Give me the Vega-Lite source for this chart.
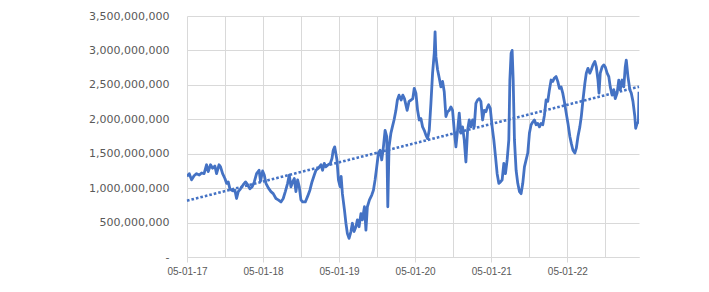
{
  "$schema": "https://vega.github.io/schema/vega-lite/v6.json",
  "autosize": "none",
  "width": 452,
  "height": 241,
  "padding": {"left": 187, "top": 16, "right": 70, "bottom": 35},
  "background": "white",
  "config": {"view": {"stroke": null}},
  "data": {"values": [
    {"date":"2017-01-05","value":1.17e9},{"date":"2017-01-16","value":1.21e9},{"date":"2017-01-27","value":1.12e9},{"date":"2017-02-08","value":1.18e9},{"date":"2017-02-20","value":1.21e9},{"date":"2017-03-05","value":1.19e9},{"date":"2017-03-16","value":1.22e9},{"date":"2017-03-28","value":1.21e9},{"date":"2017-04-09","value":1.34e9},{"date":"2017-04-17","value":1.24e9},{"date":"2017-04-28","value":1.34e9},{"date":"2017-05-08","value":1.29e9},{"date":"2017-05-19","value":1.32e9},{"date":"2017-05-27","value":1.21e9},{"date":"2017-06-08","value":1.34e9},{"date":"2017-06-15","value":1.31e9},{"date":"2017-06-25","value":1.21e9},{"date":"2017-07-06","value":1.14e9},{"date":"2017-07-14","value":1.07e9},{"date":"2017-07-22","value":1.09e9},{"date":"2017-07-30","value":0.99e9},{"date":"2017-08-07","value":0.97e9},{"date":"2017-08-15","value":0.96e9},{"date":"2017-08-23","value":0.97e9},{"date":"2017-08-31","value":0.85e9},{"date":"2017-09-08","value":0.95e9},{"date":"2017-09-19","value":0.99e9},{"date":"2017-10-02","value":1.05e9},{"date":"2017-10-13","value":1.09e9},{"date":"2017-10-23","value":1.05e9},{"date":"2017-11-03","value":0.99e9},{"date":"2017-11-14","value":1.02e9},{"date":"2017-11-24","value":1.09e9},{"date":"2017-12-05","value":1.21e9},{"date":"2017-12-17","value":1.26e9},{"date":"2017-12-24","value":1.10e9},
    {"date":"2018-01-03","value":1.25e9},{"date":"2018-01-11","value":1.19e9},{"date":"2018-01-19","value":1.07e9},{"date":"2018-01-31","value":1.00e9},{"date":"2018-02-12","value":0.95e9},{"date":"2018-02-23","value":0.92e9},{"date":"2018-03-08","value":0.85e9},{"date":"2018-03-19","value":0.83e9},{"date":"2018-04-01","value":0.80e9},{"date":"2018-04-12","value":0.85e9},{"date":"2018-04-22","value":0.95e9},{"date":"2018-05-03","value":1.07e9},{"date":"2018-05-11","value":1.19e9},{"date":"2018-05-19","value":1.02e9},{"date":"2018-05-27","value":1.09e9},{"date":"2018-06-04","value":1.14e9},{"date":"2018-06-12","value":0.95e9},{"date":"2018-06-20","value":1.12e9},{"date":"2018-06-28","value":1.02e9},{"date":"2018-07-06","value":0.83e9},{"date":"2018-07-14","value":0.80e9},{"date":"2018-07-27","value":0.80e9},{"date":"2018-08-07","value":0.88e9},{"date":"2018-08-18","value":0.97e9},{"date":"2018-08-28","value":1.09e9},{"date":"2018-09-08","value":1.19e9},{"date":"2018-09-16","value":1.26e9},{"date":"2018-09-28","value":1.29e9},{"date":"2018-10-10","value":1.34e9},{"date":"2018-10-18","value":1.26e9},{"date":"2018-10-26","value":1.36e9},{"date":"2018-11-03","value":1.31e9},{"date":"2018-11-14","value":1.34e9},{"date":"2018-11-24","value":1.36e9},{"date":"2018-12-02","value":1.43e9},{"date":"2018-12-08","value":1.55e9},{"date":"2018-12-15","value":1.60e9},{"date":"2018-12-26","value":1.41e9},
    {"date":"2019-01-02","value":1.12e9},{"date":"2019-01-10","value":1.02e9},{"date":"2019-01-15","value":1.17e9},{"date":"2019-01-21","value":0.92e9},{"date":"2019-01-31","value":0.68e9},{"date":"2019-02-07","value":0.49e9},{"date":"2019-02-14","value":0.34e9},{"date":"2019-02-22","value":0.27e9},{"date":"2019-03-03","value":0.37e9},{"date":"2019-03-10","value":0.49e9},{"date":"2019-03-18","value":0.37e9},{"date":"2019-03-27","value":0.44e9},{"date":"2019-04-03","value":0.54e9},{"date":"2019-04-11","value":0.44e9},{"date":"2019-04-20","value":0.63e9},{"date":"2019-04-27","value":0.54e9},{"date":"2019-05-07","value":0.73e9},{"date":"2019-05-14","value":0.39e9},{"date":"2019-05-21","value":0.73e9},{"date":"2019-05-31","value":0.83e9},{"date":"2019-06-11","value":0.90e9},{"date":"2019-06-19","value":0.97e9},{"date":"2019-06-27","value":1.12e9},{"date":"2019-07-05","value":1.31e9},{"date":"2019-07-13","value":1.51e9},{"date":"2019-07-21","value":1.55e9},{"date":"2019-07-29","value":1.41e9},{"date":"2019-08-06","value":1.60e9},{"date":"2019-08-14","value":1.84e9},{"date":"2019-08-22","value":1.75e9},{"date":"2019-08-27","value":0.73e9},{"date":"2019-09-02","value":1.60e9},{"date":"2019-09-11","value":1.80e9},{"date":"2019-09-18","value":1.89e9},{"date":"2019-09-26","value":1.99e9},{"date":"2019-10-05","value":2.13e9},{"date":"2019-10-12","value":2.28e9},{"date":"2019-10-20","value":2.35e9},{"date":"2019-10-30","value":2.28e9},{"date":"2019-11-07","value":2.35e9},{"date":"2019-11-15","value":2.30e9},{"date":"2019-11-28","value":2.13e9},{"date":"2019-12-07","value":2.26e9},{"date":"2019-12-17","value":2.28e9},{"date":"2019-12-25","value":2.30e9},
    {"date":"2020-01-01","value":2.45e9},{"date":"2020-01-09","value":2.38e9},{"date":"2020-01-17","value":2.13e9},{"date":"2020-01-25","value":1.99e9},{"date":"2020-02-02","value":2.01e9},{"date":"2020-02-10","value":1.89e9},{"date":"2020-02-18","value":1.84e9},{"date":"2020-02-26","value":1.77e9},{"date":"2020-03-05","value":1.72e9},{"date":"2020-03-13","value":1.84e9},{"date":"2020-03-21","value":2.23e9},{"date":"2020-03-29","value":2.67e9},{"date":"2020-04-06","value":2.96e9},{"date":"2020-04-10","value":3.27e9},{"date":"2020-04-14","value":2.91e9},{"date":"2020-04-22","value":2.72e9},{"date":"2020-04-30","value":2.60e9},{"date":"2020-05-08","value":2.47e9},{"date":"2020-05-16","value":2.55e9},{"date":"2020-05-24","value":2.40e9},{"date":"2020-06-01","value":2.04e9},{"date":"2020-06-09","value":2.11e9},{"date":"2020-06-17","value":2.13e9},{"date":"2020-06-25","value":2.18e9},{"date":"2020-07-03","value":2.13e9},{"date":"2020-07-11","value":1.84e9},{"date":"2020-07-19","value":1.60e9},{"date":"2020-07-27","value":1.84e9},{"date":"2020-08-04","value":2.09e9},{"date":"2020-08-12","value":1.80e9},{"date":"2020-08-20","value":1.89e9},{"date":"2020-08-28","value":1.70e9},{"date":"2020-09-05","value":1.38e9},{"date":"2020-09-13","value":1.84e9},{"date":"2020-09-21","value":1.99e9},{"date":"2020-09-29","value":1.89e9},{"date":"2020-10-07","value":1.99e9},{"date":"2020-10-15","value":1.89e9},{"date":"2020-10-23","value":2.23e9},{"date":"2020-10-31","value":2.28e9},{"date":"2020-11-08","value":2.30e9},{"date":"2020-11-16","value":2.26e9},{"date":"2020-11-24","value":1.99e9},{"date":"2020-12-02","value":2.13e9},{"date":"2020-12-10","value":2.11e9},{"date":"2020-12-18","value":2.18e9},{"date":"2020-12-23","value":2.21e9},{"date":"2020-12-31","value":2.16e9},
    {"date":"2021-01-09","value":1.89e9},{"date":"2021-01-17","value":1.70e9},{"date":"2021-01-25","value":1.46e9},{"date":"2021-02-02","value":1.21e9},{"date":"2021-02-10","value":1.07e9},{"date":"2021-02-18","value":1.09e9},{"date":"2021-02-26","value":1.12e9},{"date":"2021-03-06","value":1.36e9},{"date":"2021-03-14","value":1.21e9},{"date":"2021-03-22","value":1.41e9},{"date":"2021-03-30","value":1.70e9},{"date":"2021-04-04","value":2.57e9},{"date":"2021-04-10","value":2.96e9},{"date":"2021-04-15","value":3.00e9},{"date":"2021-04-20","value":2.57e9},{"date":"2021-04-26","value":1.70e9},{"date":"2021-05-04","value":1.26e9},{"date":"2021-05-12","value":1.07e9},{"date":"2021-05-20","value":0.95e9},{"date":"2021-05-28","value":0.92e9},{"date":"2021-06-05","value":1.07e9},{"date":"2021-06-13","value":1.31e9},{"date":"2021-06-21","value":1.41e9},{"date":"2021-06-29","value":1.51e9},{"date":"2021-07-07","value":1.80e9},{"date":"2021-07-15","value":1.92e9},{"date":"2021-07-23","value":1.96e9},{"date":"2021-07-31","value":1.99e9},{"date":"2021-08-08","value":1.92e9},{"date":"2021-08-16","value":1.94e9},{"date":"2021-08-24","value":1.89e9},{"date":"2021-09-01","value":1.94e9},{"date":"2021-09-09","value":1.92e9},{"date":"2021-09-17","value":2.06e9},{"date":"2021-09-25","value":2.28e9},{"date":"2021-10-03","value":2.26e9},{"date":"2021-10-11","value":2.43e9},{"date":"2021-10-19","value":2.57e9},{"date":"2021-10-27","value":2.55e9},{"date":"2021-11-04","value":2.60e9},{"date":"2021-11-12","value":2.62e9},{"date":"2021-11-20","value":2.55e9},{"date":"2021-11-28","value":2.45e9},{"date":"2021-12-06","value":2.47e9},{"date":"2021-12-14","value":2.38e9},{"date":"2021-12-22","value":2.25e9},{"date":"2021-12-30","value":2.10e9},
    {"date":"2022-01-08","value":1.94e9},{"date":"2022-01-17","value":1.75e9},{"date":"2022-01-24","value":1.65e9},{"date":"2022-02-01","value":1.55e9},{"date":"2022-02-10","value":1.51e9},{"date":"2022-02-17","value":1.58e9},{"date":"2022-02-25","value":1.75e9},{"date":"2022-03-06","value":1.89e9},{"date":"2022-03-13","value":2.04e9},{"date":"2022-03-21","value":2.28e9},{"date":"2022-03-30","value":2.52e9},{"date":"2022-04-06","value":2.67e9},{"date":"2022-04-14","value":2.74e9},{"date":"2022-04-23","value":2.67e9},{"date":"2022-04-30","value":2.72e9},{"date":"2022-05-08","value":2.79e9},{"date":"2022-05-17","value":2.84e9},{"date":"2022-05-24","value":2.76e9},{"date":"2022-06-01","value":2.57e9},{"date":"2022-06-06","value":2.38e9},{"date":"2022-06-12","value":2.67e9},{"date":"2022-06-21","value":2.76e9},{"date":"2022-06-29","value":2.79e9},{"date":"2022-07-06","value":2.76e9},{"date":"2022-07-15","value":2.67e9},{"date":"2022-07-23","value":2.62e9},{"date":"2022-07-30","value":2.47e9},{"date":"2022-08-08","value":2.35e9},{"date":"2022-08-16","value":2.43e9},{"date":"2022-08-23","value":2.30e9},{"date":"2022-09-01","value":2.38e9},{"date":"2022-09-09","value":2.57e9},{"date":"2022-09-16","value":2.43e9},{"date":"2022-09-25","value":2.57e9},{"date":"2022-10-03","value":2.47e9},{"date":"2022-10-10","value":2.76e9},{"date":"2022-10-15","value":2.86e9},{"date":"2022-10-23","value":2.62e9},{"date":"2022-11-01","value":2.43e9},{"date":"2022-11-08","value":2.38e9},{"date":"2022-11-16","value":2.26e9},{"date":"2022-11-25","value":2.04e9},{"date":"2022-11-29","value":1.87e9},{"date":"2022-12-06","value":1.94e9},{"date":"2022-12-12","value":1.96e9},{"date":"2022-12-15","value":2.40e9}
  ]},
  "layer": [
    {
      "mark": {"type": "line", "color": "#4472C4", "strokeWidth": 2.8, "strokeJoin": "round", "clip": true},
      "encoding": {
        "x": {
          "field": "date", "type": "temporal", "title": null,
          "scale": {"type": "utc", "domain": [{"year": 2017, "month": 1, "date": 5, "utc": true}, {"year": 2022, "month": 12, "date": 15, "utc": true}]},
          "axis": {
            "values": [
              {"year": 2017, "month": 1, "date": 5, "utc": true}, {"year": 2017, "month": 7, "date": 5, "utc": true},
              {"year": 2018, "month": 1, "date": 5, "utc": true}, {"year": 2018, "month": 7, "date": 5, "utc": true},
              {"year": 2019, "month": 1, "date": 5, "utc": true}, {"year": 2019, "month": 7, "date": 5, "utc": true},
              {"year": 2020, "month": 1, "date": 5, "utc": true}, {"year": 2020, "month": 7, "date": 5, "utc": true},
              {"year": 2021, "month": 1, "date": 5, "utc": true}, {"year": 2021, "month": 7, "date": 5, "utc": true},
              {"year": 2022, "month": 1, "date": 5, "utc": true}, {"year": 2022, "month": 7, "date": 5, "utc": true}
            ],
            "tickCount": 20,
            "labelExpr": "utcmonth(datum.value) == 0 ? utcFormat(datum.value, '%d-%m-%y') : ''",
            "grid": true, "gridColor": "#d9d9d9", "gridWidth": 1,
            "domainColor": "#d9d9d9", "domainWidth": 1,
            "tickColor": "#d9d9d9", "tickSize": 5,
            "tickOpacity": {"condition": {"test": "utcmonth(datum.value) == 0", "value": 1}, "value": 0},
            "labelFont": "Liberation Sans", "labelFontSize": 10, "labelColor": "#595959",
            "labelPadding": 4, "labelOverlap": false, "labelFlush": false
          }
        },
        "y": {
          "field": "value", "type": "quantitative", "title": null,
          "scale": {"domain": [0, 3500000000], "nice": false, "zero": true},
          "axis": {
            "values": [0, 500000000, 1000000000, 1500000000, 2000000000, 2500000000, 3000000000, 3500000000],
            "tickCount": 10,
            "labelExpr": "datum.value == 0 ? '-' : format(datum.value, ',')",
            "grid": true, "gridColor": "#d9d9d9", "gridWidth": 1,
            "domain": false, "ticks": false,
            "labelFont": "DejaVu Sans", "labelFontSize": 11, "labelColor": "#595959",
            "labelPadding": 18, "labelOverlap": false, "labelFlush": false
          }
        }
      }
    },
    {
      "transform": [{"regression": "value", "on": "date", "method": "linear"}],
      "mark": {"type": "line", "color": "#4472C4", "strokeWidth": 2.6, "strokeDash": [2.6, 2], "strokeCap": "butt"},
      "encoding": {
        "x": {"field": "date", "type": "temporal"},
        "y": {"field": "value", "type": "quantitative"}
      }
    }
  ]
}
